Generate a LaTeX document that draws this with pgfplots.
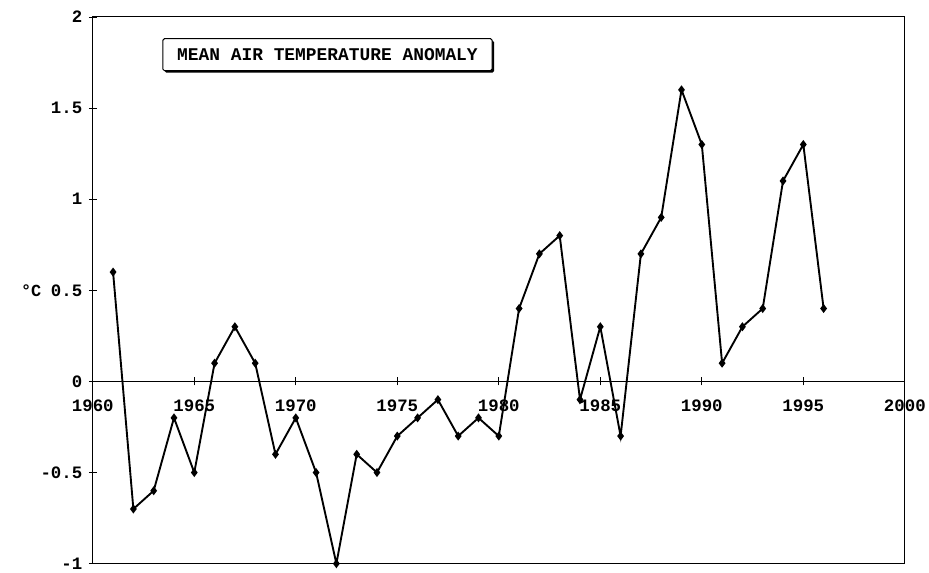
\documentclass[border=0pt]{standalone}
\usepackage{pgfplots}
\pgfplotsset{compat=1.18}
\usepackage{fontspec}
\setmainfont{Liberation Mono}
\usetikzlibrary{shadows}
\begin{document}
\begin{tikzpicture}[x=1bp,y=1bp]
\begin{axis}[
  scale only axis,
  width=814bp, height=548bp,
  xmin=1960, xmax=2000, ymin=-1, ymax=2,
  axis x line=middle, axis y line=left,
  axis line style={-, line width=1pt},
  hide obscured x ticks=false,
  xtick={1960,1965,...,2000},
  xticklabels={1960,1965,1970,1975,1980,1985,1990,1995,2000},
  ytick={-1,-0.5,0,0.5,1,1.5,2},
  yticklabels={-1,-0.5,0,0.5,1,1.5,2},
  tick align=center, major tick length=8bp,
  tick style={line width=0.8pt, black},
  ticklabel style={font=\fontsize{17.5}{18}\selectfont\bfseries},
  x tick label style={yshift=-11bp},
  y tick label style={xshift=-3bp},
  ylabel={\fontsize{17}{18}\selectfont\bfseries °C},
  ylabel style={rotate=-90, at={(rel axis cs:0,0.5)}, anchor=east, xshift=-48bp},
  clip=false,
]
\draw[line width=1pt] (rel axis cs:0,0) rectangle (rel axis cs:1,1);
\addplot[black, line width=1.9pt, mark=diamond*, mark size=3pt, mark options={solid}] coordinates {
(1961,0.6) (1962,-0.7) (1963,-0.6) (1964,-0.2) (1965,-0.5) (1966,0.1) (1967,0.3) (1968,0.1)
(1969,-0.4) (1970,-0.2) (1971,-0.5) (1972,-1.0) (1973,-0.4) (1974,-0.5) (1975,-0.3) (1976,-0.2)
(1977,-0.1) (1978,-0.3) (1979,-0.2) (1980,-0.3) (1981,0.4) (1982,0.7) (1983,0.8) (1984,-0.1)
(1985,0.3) (1986,-0.3) (1987,0.7) (1988,0.9) (1989,1.6) (1990,1.3) (1991,0.1) (1992,0.3)
(1993,0.4) (1994,1.1) (1995,1.3) (1996,0.4)
};
\node[draw, line width=1pt, fill=white, rounded corners=1.5bp, minimum width=330bp, minimum height=32bp,
  drop shadow={shadow xshift=2bp, shadow yshift=-2bp, fill=black, opacity=1},
  font=\fontsize{18}{19}\selectfont\bfseries] at (rel axis cs:0.289,0.931) {MEAN AIR TEMPERATURE ANOMALY};
\end{axis}
\path (current axis.south west) ++(-93bp,-8bp) coordinate (bbA);
\path (current axis.north east) ++(22bp,17bp) coordinate (bbB);
\useasboundingbox (bbA) rectangle (bbB);
\end{tikzpicture}
\end{document}
